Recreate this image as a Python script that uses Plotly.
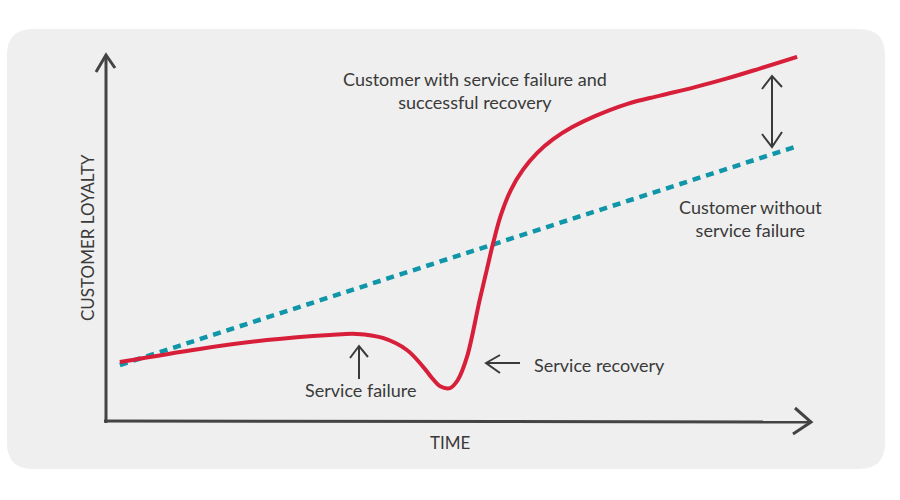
import plotly.graph_objects as go

# ---- data (time units 0-100, loyalty units 0-100) ----
recovery_time = [2.1, 13.4, 22.9, 31.8, 35.6, 39.3, 42.7, 45.0, 46.4, 47.4, 48.8, 49.9, 51.2,
                 53.0, 54.0, 54.9, 56.0, 57.4, 59.1, 61.1, 63.4, 66.1, 69.3, 73.8, 78.5,
                 83.2, 88.0, 92.6, 97.9]
recovery_loyalty = [16.1, 19.7, 22.1, 23.5, 23.8, 22.7, 19.4, 14.8, 11.4, 9.5, 9.0, 11.2, 17.5,
                    33.1, 41.3, 48.6, 56.3, 63.1, 68.6, 73.2, 77.0, 80.3, 83.3, 86.6, 88.9,
                    91.1, 93.6, 96.3, 99.5]
baseline_time = [2.1, 97.6]
baseline_loyalty = [15.3, 74.9]

RED = "#d71f3a"
TEAL = "#0f96a8"
INK = "#3a3a3a"
FONT = "Lato"

# layout geometry (pixels)
W, H = 900, 500
L, R, T, B = 105, 88, 55, 79
PW, PH = W - L - R, H - T - B


def px(x, y):
    """pixel -> paper coordinates (decoration only)"""
    return (x - L) / PW, (H - B - y) / PH


def path(points):
    s = ""
    for i, (x, y) in enumerate(points):
        a, b = px(x, y)
        s += ("M" if i == 0 else " L") + f" {a:.5f},{b:.5f}"
    return s


fig = go.Figure()
fig.add_trace(go.Scatter(x=baseline_time, y=baseline_loyalty, mode="lines",
                         line=dict(color=TEAL, width=4.5, dash="8px,6px"),
                         hoverinfo="skip"))
fig.add_trace(go.Scatter(x=recovery_time, y=recovery_loyalty, mode="lines",
                         line=dict(color=RED, width=4, shape="spline", smoothing=1.0),
                         hoverinfo="skip"))

shapes = []
# rounded background
x0, y0, x1, y1, r = 7, 29, 885, 469, 26
rx, ry = r / PW, r / PH
X0, Y1p = px(x0, y0)
X1, Y0p = px(x1, y1)
bg = (f"M {X0+rx},{Y1p} L {X1-rx},{Y1p} Q {X1},{Y1p} {X1},{Y1p-ry} "
      f"L {X1},{Y0p+ry} Q {X1},{Y0p} {X1-rx},{Y0p} "
      f"L {X0+rx},{Y0p} Q {X0},{Y0p} {X0},{Y0p+ry} "
      f"L {X0},{Y1p-ry} Q {X0},{Y1p} {X0+rx},{Y1p} Z")
shapes.append(dict(type="path", path=bg, xref="paper", yref="paper",
                   fillcolor="#efefef", line=dict(width=0), layer="below"))

ax = dict(color="#444444", width=3)
thin = dict(color=INK, width=2)
# axes
shapes.append(dict(type="path", path=path([(106, 423), (106, 56)]), xref="paper", yref="paper", line=ax))
shapes.append(dict(type="path", path=path([(104, 421), (810, 422)]), xref="paper", yref="paper", line=ax))
shapes.append(dict(type="path", path=path([(96, 72), (106, 55), (115, 68)]), xref="paper", yref="paper", line=ax))
shapes.append(dict(type="path", path=path([(795, 408), (811, 422), (793, 434)]), xref="paper", yref="paper", line=ax))
# service failure arrow
shapes.append(dict(type="path", path=path([(359, 379), (359, 346)]), xref="paper", yref="paper", line=thin))
shapes.append(dict(type="path", path=path([(350, 358), (359, 346), (368, 357)]), xref="paper", yref="paper", line=thin))
# service recovery arrow
shapes.append(dict(type="path", path=path([(520, 363), (486, 363)]), xref="paper", yref="paper", line=thin))
shapes.append(dict(type="path", path=path([(500, 355), (486, 363), (500, 373)]), xref="paper", yref="paper", line=thin))
# gap double arrow
shapes.append(dict(type="path", path=path([(772, 76), (772, 146)]), xref="paper", yref="paper", line=thin))
shapes.append(dict(type="path", path=path([(762, 89), (772, 76), (782, 87)]), xref="paper", yref="paper", line=thin))
shapes.append(dict(type="path", path=path([(762, 134), (772, 147), (782, 132)]), xref="paper", yref="paper", line=thin))


def note(text, x, y, xanchor="center", size=18, angle=0):
    a, b = px(x, y)
    return dict(text=text, x=a, y=b, xref="paper", yref="paper", showarrow=False,
                xanchor=xanchor, yanchor="middle", textangle=angle,
                font=dict(family=FONT, size=size, color=INK))


annotations = [
    note("Customer with service failure and<br>successful recovery", 475, 90),
    note("Customer without<br>service failure", 750, 218),
    note("Service failure", 360, 390),
    note("Service recovery", 532, 365, xanchor="left"),
    note("CUSTOMER LOYALTY", 87, 238, angle=-90, size=17),
    note("TIME", 450, 442, size=17),
]

fig.update_layout(
    width=W, height=H,
    margin=dict(l=L, r=R, t=T, b=B),
    paper_bgcolor="white",
    plot_bgcolor="rgba(0,0,0,0)",
    showlegend=False,
    xaxis=dict(range=[0, 100], visible=False, fixedrange=True),
    yaxis=dict(range=[0, 100], visible=False, fixedrange=True),
    shapes=shapes,
    annotations=annotations,
)

fig.write_html("out.html")
